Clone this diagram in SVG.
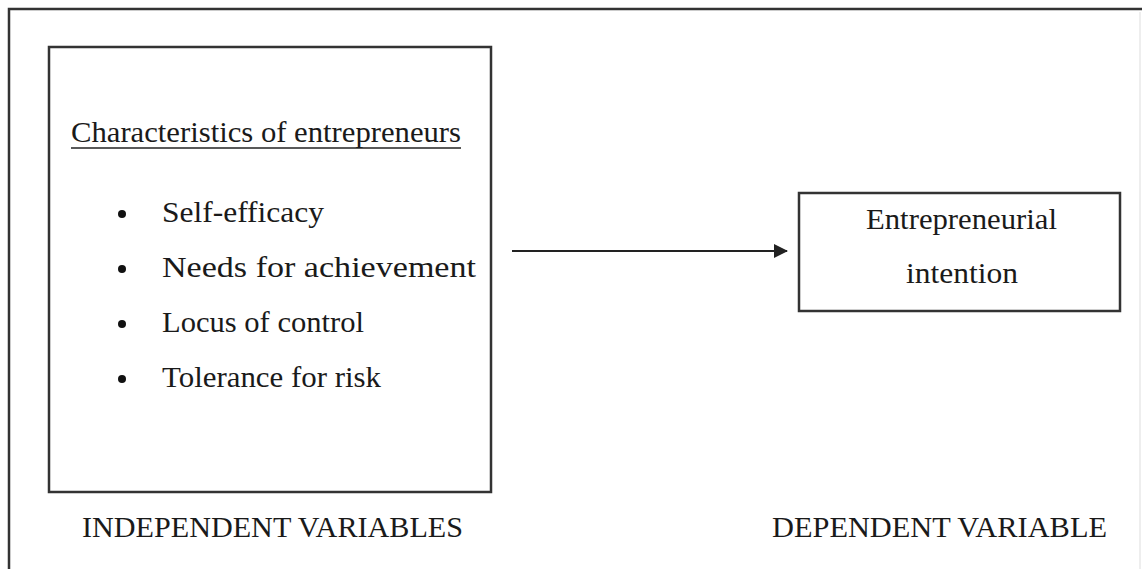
<svg xmlns="http://www.w3.org/2000/svg" width="1142" height="569" viewBox="0 0 1142 569">
<defs>
<style>
.t{font-family:"Liberation Serif","DejaVu Serif",serif;font-size:30px;fill:#1a1a1a}
.b{font-size:30px}
.box{fill:none;stroke:#333;stroke-width:2.5}
</style>
<marker id="ah" markerWidth="14" markerHeight="14" refX="13" refY="7" orient="auto" markerUnits="userSpaceOnUse">
<path d="M0,0 L14,7 L0,14 z" fill="#222"/>
</marker>
</defs>
<rect width="1142" height="569" fill="#fff"/>
<path d="M1142,9 H9 V569" fill="none" stroke="#333" stroke-width="2.5"/>
<line x1="1140" y1="12" x2="1140" y2="569" stroke="#ddd" stroke-width="1"/>
<g id="independent">
<rect class="box" x="49" y="47" width="442" height="445"/>
<text class="t" x="71" y="142" textLength="390" lengthAdjust="spacingAndGlyphs">Characteristics of entrepreneurs</text>
<line x1="71" y1="148" x2="461" y2="148" stroke="#222" stroke-width="1.5"/>
<g fill="#111">
<circle cx="122" cy="214" r="4"/>
<circle cx="122" cy="269" r="4"/>
<circle cx="122" cy="324" r="4"/>
<circle cx="122" cy="379" r="4"/>
</g>
<text class="t b" x="162" y="222" textLength="162" lengthAdjust="spacingAndGlyphs">Self-efficacy</text>
<text class="t b" x="162" y="277" textLength="314" lengthAdjust="spacingAndGlyphs">Needs for achievement</text>
<text class="t b" x="162" y="332" textLength="202" lengthAdjust="spacingAndGlyphs">Locus of control</text>
<text class="t b" x="162" y="387" textLength="219" lengthAdjust="spacingAndGlyphs">Tolerance for risk</text>
</g>
<g id="dependent">
<rect class="box" x="799" y="193" width="321" height="118"/>
<text class="t b" x="866" y="229" textLength="191" lengthAdjust="spacingAndGlyphs">Entrepreneurial</text>
<text class="t b" x="906" y="283" textLength="112" lengthAdjust="spacingAndGlyphs">intention</text>
</g>
<g id="connectors">
<line x1="512" y1="251" x2="787" y2="251" stroke="#222" stroke-width="2" marker-end="url(#ah)"/>
</g>
<g id="labels">
<text class="t" x="82" y="537" textLength="381" lengthAdjust="spacingAndGlyphs">INDEPENDENT VARIABLES</text>
<text class="t" x="772" y="537" textLength="335" lengthAdjust="spacingAndGlyphs">DEPENDENT VARIABLE</text>
</g>
</svg>
